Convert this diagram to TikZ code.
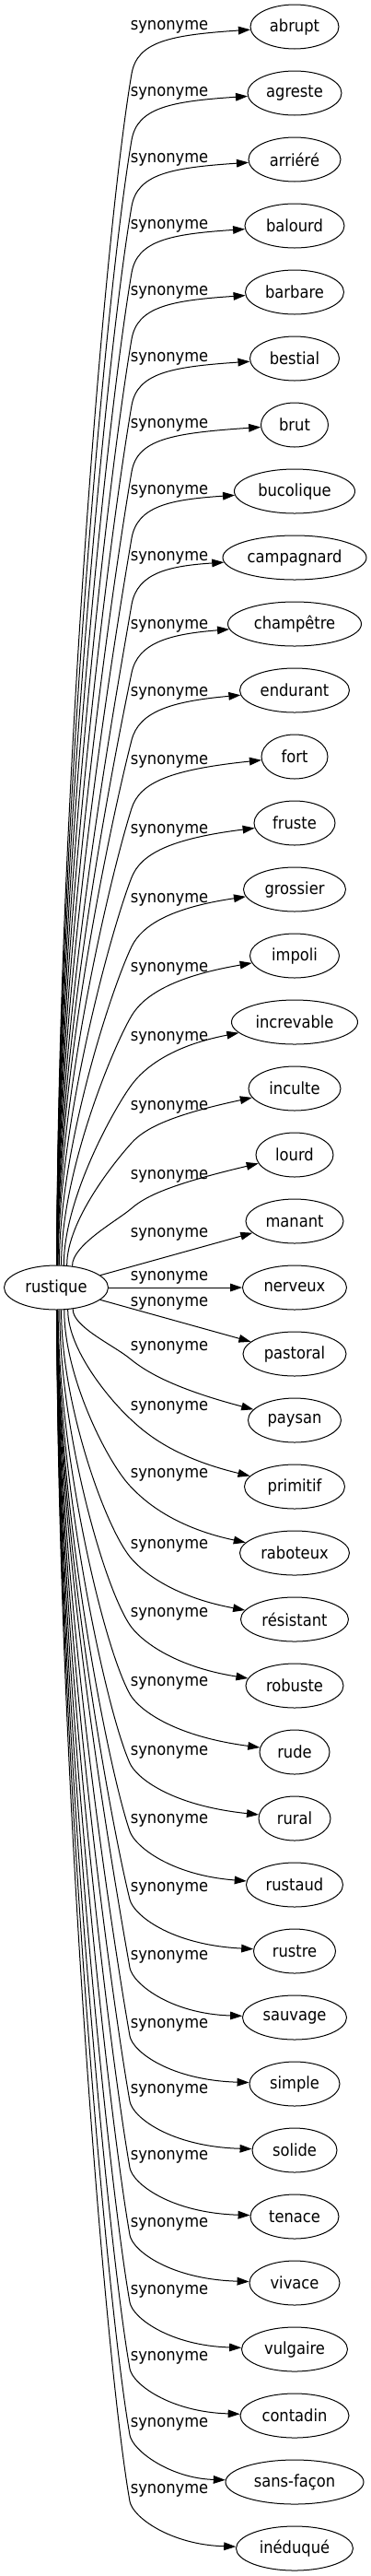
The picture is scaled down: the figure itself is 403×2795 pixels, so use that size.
\documentclass[tikz,border=0pt]{standalone}
\usepackage{fontspec}
\setmainfont{DejaVu Sans}[FakeStretch=0.9]
\usetikzlibrary{arrows.meta,shapes.geometric}
\begin{document}
\begin{tikzpicture}[x=0.75pt,y=-0.75pt,
  word/.style={ellipse, draw, line width=0.75pt, inner sep=0pt, minimum height=36pt,
    font=\fontsize{13.6}{16}\selectfont},
  lbl/.style={inner sep=0pt, font=\fontsize{13.6}{16}\selectfont},
  edge/.style={line width=0.75pt, -{Triangle[length=9.75pt,width=6.5pt]}}]
\useasboundingbox (0,0) rectangle (403,2795);
\node[word, minimum width=113*0.75pt] (r) at (61,1397) {rustique};
\foreach \idx/\txt/\wid/\lab in {0/abrupt/96/29, 1/agreste/102/101, 2/arriéré/100/173,
  3/balourd/108/245, 4/barbare/107/317, 5/bestial/97/389, 6/brut/73/461,
  7/bucolique/131/533, 8/campagnard/156/605, 9/champêtre/145/679,
  10/endurant/119/752, 11/fort/72/826, 12/fruste/88/901, 13/grossier/111/976,
  14/impoli/97/1051, 15/increvable/137/1126, 16/inculte/100/1201, 17/lourd/84/1276,
  18/manant/106/1339, 19/nerveux/113/1386, 20/pastoral/112/1414, 21/paysan/101/1462,
  22/primitif/109/1527, 23/raboteux/119/1600, 24/résistant/117/1677,
  25/robuste/106/1751, 26/rude/76/1826, 27/rural/78/1901, 28/rustaud/105/1975,
  29/rustre/89/2049, 30/sauvage/113/2123, 31/simple/98/2197, 32/solide/92/2268,
  33/tenace/96/2340, 34/vivace/98/2413, 35/vulgaire/115/2486, 36/contadin/118/2558,
  37/sans-façon/150/2630, 38/inéduqué/127/2702} {
  \pgfmathsetmacro\ty{29+72*\idx}
  \node[word, minimum width=\wid*0.75pt] (t\idx) at (320,\ty) {\txt};
  \node[lbl] (l\idx) at (184,\lab) {synonyme};
}
% straight edges
\draw[edge] (r) -- (t18);
\draw[edge] (r) -- (t19);
\draw[edge] (r) -- (t20);
% upper edges
\foreach \idx/\lab in {0/29, 1/101, 2/173, 3/245, 4/317, 5/389, 6/461, 7/533, 8/605,
  9/679, 10/752, 11/826, 12/901, 13/976, 14/1051, 15/1126, 16/1201, 17/1276} {
  \pgfmathsetmacro\Ky{\lab+ifthenelse(\idx==16,39,ifthenelse(\idx==17,35,51))}
  \pgfmathsetmacro\dd{1373-\Ky}
  \pgfmathsetmacro\uu{1-min(1,\dd/700)}
  \pgfmathsetmacro\ang{88-45*\uu*\uu*\uu}
  \pgfmathsetmacro\rr{1356/sqrt((24*cos(\ang))^2+(56.5*sin(\ang))^2)}
  \pgfmathsetmacro\Sx{61+\rr*cos(\ang)}
  \pgfmathsetmacro\Sy{1397-\rr*sin(\ang)}
  \pgfmathsetmacro\tx{6+10*\uu}
  \pgfmathsetmacro\tyy{24*\uu-35}
  \pgfmathsetmacro\mm{0.8+\dd/300}
  \pgfmathsetmacro\aY{\Sy-0.37*\dd}
  \pgfmathsetmacro\bX{143-\mm*\tx}
  \pgfmathsetmacro\bY{\Ky-\mm*\tyy}
  \pgfmathsetmacro\cX{143+\tx}
  \pgfmathsetmacro\cY{\Ky+\tyy}
  \pgfmathsetmacro\dY{\lab+9}
  \draw[edge] (r.\ang) .. controls (\Sx,\aY) and (\bX,\bY)
    .. (143,\Ky) .. controls (\cX,\cY) and (185,\dY) .. (t\idx);
}
% lower edges
\foreach \idx/\lab in {21/1462, 22/1527, 23/1600, 24/1677, 25/1751, 26/1826, 27/1901,
  28/1975, 29/2049, 30/2123, 31/2197, 32/2268, 33/2340, 34/2413, 35/2486, 36/2558,
  37/2630, 38/2702} {
  \pgfmathsetmacro\ty{29+72*\idx}
  \pgfmathsetmacro\Ky{\lab+12}
  \pgfmathsetmacro\dd{\Ky-1421}
  \pgfmathsetmacro\uu{1-min(1,\dd/700)}
  \pgfmathsetmacro\ang{45*\uu*\uu*\uu-88}
  \pgfmathsetmacro\rr{1356/sqrt((24*cos(\ang))^2+(56.5*sin(\ang))^2)}
  \pgfmathsetmacro\Sx{61+\rr*cos(\ang)}
  \pgfmathsetmacro\Sy{1397-\rr*sin(\ang)}
  \pgfmathsetmacro\tx{3+13*\uu}
  \pgfmathsetmacro\tyy{17-5*\uu}
  \pgfmathsetmacro\mm{0.8+\dd/150}
  \pgfmathsetmacro\aY{\Sy+0.37*\dd}
  \pgfmathsetmacro\bX{141-\mm*\tx}
  \pgfmathsetmacro\bY{\Ky-\mm*\tyy}
  \pgfmathsetmacro\cX{141+\tx}
  \pgfmathsetmacro\cY{\Ky+\tyy}
  \pgfmathsetmacro\dY{\ty-4-34*\uu}
  \draw[edge] (r.\ang) .. controls (\Sx,\aY) and (\bX,\bY)
    .. (141,\Ky) .. controls (\cX,\cY) and (185,\dY) .. (t\idx);
}
\end{tikzpicture}
\end{document}
